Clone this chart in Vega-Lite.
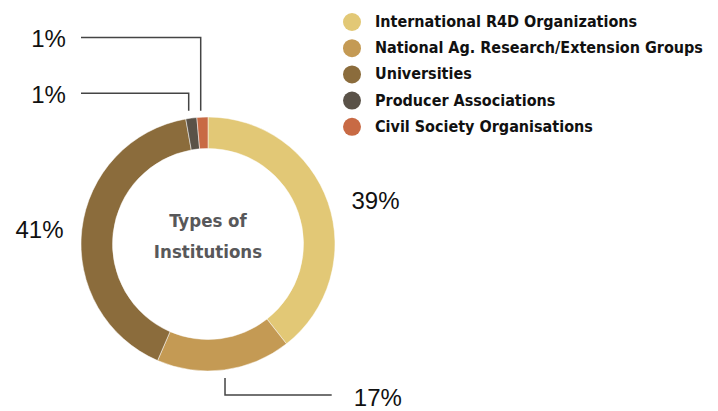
{
  "$schema": "https://vega.github.io/schema/vega-lite/v6.json",
  "width": 718,
  "height": 411,
  "autosize": "none",
  "padding": 0,
  "background": "white",
  "config": {"view": {"stroke": null}},
  "datasets": {
    "segments": [
      {"type": "International R4D Organizations", "value": 39.4, "order": 1},
      {"type": "National Ag. Research/Extension Groups", "value": 17.1, "order": 2},
      {"type": "Universities", "value": 40.7, "order": 3},
      {"type": "Producer Associations", "value": 1.4, "order": 4},
      {"type": "Civil Society Organisations", "value": 1.4, "order": 5}
    ],
    "labels": [
      {"text": "1%", "x": -1.256, "y": 1.5535},
      {"text": "1%", "x": -1.256, "y": 1.1126},
      {"text": "39%", "x": 1.319, "y": 0.2756},
      {"text": "41%", "x": -1.327, "y": 0.0449},
      {"text": "17%", "x": 1.337, "y": -1.2732}
    ],
    "leaders": [
      {"line": "civil", "seq": 1, "x": -1.0, "y": 1.626},
      {"line": "civil", "seq": 2, "x": -0.0575, "y": 1.626},
      {"line": "civil", "seq": 3, "x": -0.0575, "y": 1.0496},
      {"line": "producer", "seq": 1, "x": -1.0, "y": 1.1866},
      {"line": "producer", "seq": 2, "x": -0.152, "y": 1.1866},
      {"line": "producer", "seq": 3, "x": -0.152, "y": 1.0496},
      {"line": "national", "seq": 1, "x": 0.1339, "y": -1.055},
      {"line": "national", "seq": 2, "x": 0.1339, "y": -1.189},
      {"line": "national", "seq": 3, "x": 0.974, "y": -1.189}
    ],
    "center": [
      {"text": "Types of", "x": 0, "y": 0.136},
      {"text": "Institutions", "x": 0, "y": -0.11}
    ]
  },
  "layer": [
    {
      "data": {"name": "segments"},
      "mark": {"type": "arc", "outerRadius": 127, "innerRadius": 95.5, "stroke": "#ffffff", "strokeWidth": 0.5},
      "encoding": {
        "x": {"datum": 0, "type": "quantitative", "scale": {"domain": [-1.6378, 4.0157], "nice": false, "zero": false}, "axis": null},
        "y": {"datum": 0, "type": "quantitative", "scale": {"domain": [-1.315, 1.9213], "nice": false, "zero": false}, "axis": null},
        "theta": {"field": "value", "type": "quantitative", "stack": true},
        "order": {"field": "order", "type": "quantitative"},
        "color": {
          "field": "type",
          "type": "nominal",
          "sort": ["International R4D Organizations", "National Ag. Research/Extension Groups", "Universities", "Producer Associations", "Civil Society Organisations"],
          "scale": {
            "domain": ["International R4D Organizations", "National Ag. Research/Extension Groups", "Universities", "Producer Associations", "Civil Society Organisations"],
            "range": ["#E2C876", "#C49A54", "#8B6C3C", "#5A5248", "#C86A44"]
          },
          "legend": {
            "title": null,
            "orient": "none",
            "legendX": 343,
            "legendY": 13,
            "symbolType": "circle",
            "symbolSize": 324,
            "symbolStrokeWidth": 0,
            "labelFont": "DejaVu Sans Condensed",
            "labelFontWeight": "bold",
            "labelFontSize": 16,
            "labelColor": "#111111",
            "labelLimit": 400,
            "labelOffset": 14,
            "rowPadding": 8.2
          }
        }
      }
    },
    {
      "data": {"name": "leaders"},
      "mark": {"type": "line", "color": "#444444", "strokeWidth": 1.5, "clip": false},
      "encoding": {
        "x": {"field": "x", "type": "quantitative"},
        "y": {"field": "y", "type": "quantitative"},
        "detail": {"field": "line", "type": "nominal"},
        "order": {"field": "seq", "type": "quantitative"}
      }
    },
    {
      "data": {"name": "labels"},
      "mark": {"type": "text", "align": "center", "baseline": "alphabetic", "font": "Liberation Sans, Arial, sans-serif", "fontSize": 24, "color": "#111111"},
      "encoding": {
        "x": {"field": "x", "type": "quantitative"},
        "y": {"field": "y", "type": "quantitative"},
        "text": {"field": "text", "type": "nominal"}
      }
    },
    {
      "data": {"name": "center"},
      "mark": {"type": "text", "align": "center", "baseline": "alphabetic", "font": "DejaVu Sans Condensed", "fontWeight": "bold", "fontSize": 18.5, "color": "#58585A"},
      "encoding": {
        "x": {"field": "x", "type": "quantitative"},
        "y": {"field": "y", "type": "quantitative"},
        "text": {"field": "text", "type": "nominal"}
      }
    }
  ]
}
